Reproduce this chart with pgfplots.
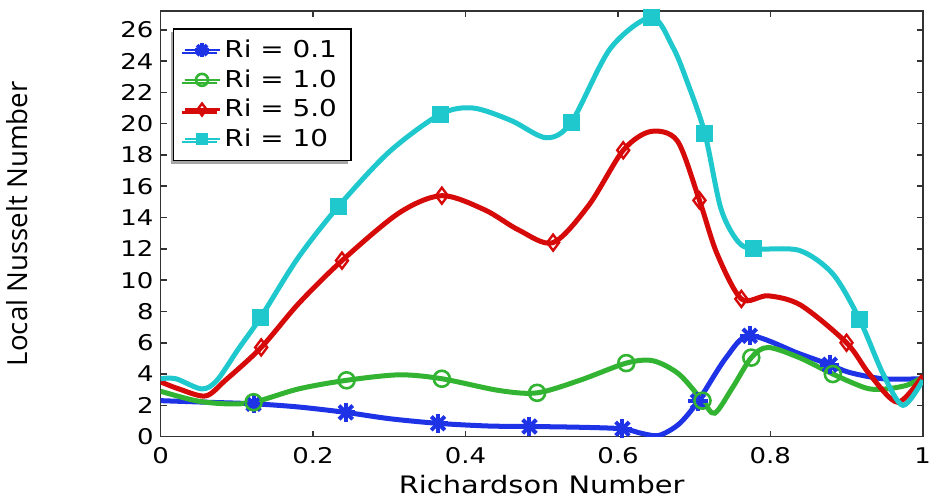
\documentclass[border=0pt]{standalone}
\usepackage{fontspec}
\setmainfont{DejaVu Sans}[FakeStretch=1.2]
\newfontfamily\ylfont{Open Sans}
\usepackage{pgfplots}
\pgfplotsset{compat=1.18}
\usetikzlibrary{shadows}
\definecolor{cblue}{RGB}{30,50,230}
\definecolor{cgreen}{RGB}{50,180,50}
\definecolor{cred}{RGB}{215,10,10}
\definecolor{ccyan}{RGB}{30,200,205}
\pgfdeclareplotmark{mstar}{\pgfuseplotmark{+}\pgfuseplotmark{x}}
\begin{document}
\begin{tikzpicture}
\begin{axis}[
  scale only axis, width=380.5pt, height=212.5pt,
  xmin=0, xmax=1, ymin=0, ymax=27.2,
  xtick={0,0.2,0.4,0.6,0.8,1}, xticklabels={0,0.2,0.4,0.6,0.8,1},
  ytick={0,2,...,26},
  /pgf/number format/assume math mode=true,
  tick align=inside, major tick length=3pt,
  tick pos=both, xticklabel pos=lower, yticklabel pos=left,
  axis line style={black!80, line width=0.8pt},
  tick style={black!80, line width=0.8pt},
  ticklabel style={font=\fontsize{10.8}{12}\selectfont},
  xticklabel style={yshift=-2pt, inner xsep=0pt},
  xlabel={Richardson Number},
  xlabel style={font=\fontsize{12}{13}\selectfont, yshift=1.5pt},
  ylabel={Local Nusselt Number},
  ylabel style={font=\ylfont\fontsize{13.8}{15}\selectfont, at={(axis description cs:-0.188,0.5)}, anchor=center, rotate=0},
  legend style={at={(0.016,0.96)}, anchor=north west, font=\fontsize{11.6}{13}\selectfont, draw=black, line width=0.8pt, fill=white,
    drop shadow={shadow xshift=-1.5pt, shadow yshift=-1.5pt, fill=black!35, opacity=1}, inner xsep=5pt, inner ysep=3.5pt, row sep=0.5pt},
  legend cell align=left,
  every axis plot/.append style={line width=2.5pt, smooth},
]
\addplot[cblue, mark=mstar, mark size=4.8pt, mark options={line width=2pt}, mark indices={3,5,7,9,11,15,17,19},
  legend image post style={mark indices={2}, line width=1.3pt, mark size=3.5pt}] coordinates {
(0,2.3) (0.06,2.2) (0.122,2.1) (0.18,1.9) (0.243,1.55) (0.30,1.15) (0.364,0.85) (0.43,0.68) (0.484,0.65) (0.55,0.6)
(0.606,0.5) (0.632,0.2) (0.654,0.08) (0.68,0.8) (0.705,2.25) (0.742,5.05) (0.773,6.45) (0.838,5.3) (0.878,4.6) (0.904,4.1) (0.948,3.7) (1,3.7)};
\addlegendentry{Ri = 0.1}
\addplot[cgreen, mark=o, mark size=4pt, mark options={line width=1.3pt, fill=white}, mark indices={4,6,8,10,12,15,18,21},
  legend image post style={mark indices={2}, line width=1.3pt, mark size=3pt}] coordinates {
(0,2.9) (0.046,2.3) (0.085,2.1) (0.122,2.2) (0.181,3.05) (0.244,3.6) (0.313,3.95) (0.369,3.7) (0.444,2.95) (0.494,2.8)
(0.55,3.6) (0.611,4.7) (0.646,4.85) (0.68,4.0) (0.711,2.3) (0.727,1.5) (0.75,3.1) (0.775,5.05) (0.797,5.7) (0.838,5.05)
(0.882,4.0) (0.926,3.1) (0.952,3.05) (0.98,3.3) (1,3.8)};
\addlegendentry{Ri = 1.0}
\addplot[cred, mark=diamond, mark size=4pt, mark options={line width=1.2pt, fill=white}, mark indices={5,7,9,12,14,17,19,22},
  legend image post style={mark indices={2}, line width=1.3pt, mark size=3pt}] coordinates {
(0,3.5) (0.024,3.05) (0.059,2.6) (0.085,3.6) (0.132,5.7) (0.181,8.5) (0.238,11.25) (0.313,14.3) (0.369,15.4) (0.425,14.5)
(0.47,13.2) (0.515,12.4) (0.562,14.8) (0.607,18.3) (0.643,19.5) (0.678,18.9) (0.707,15.1) (0.73,11.7) (0.762,8.8)
(0.797,9.0) (0.84,8.4) (0.9,6.0) (0.93,4.0) (0.967,2.2) (1,3.9)};
\addlegendentry{Ri = 5.0}
\addplot[ccyan, mark=square*, mark size=3pt, mark indices={6,8,10,14,16,19,22,25},
  legend image post style={mark indices={2}, line width=1.3pt, mark size=2.5pt}] coordinates {
(0,3.7) (0.02,3.7) (0.054,3.05) (0.074,3.6) (0.102,5.6) (0.131,7.6) (0.18,11.4) (0.233,14.7) (0.30,18.2) (0.367,20.6)
(0.41,21.0) (0.46,20.2) (0.506,19.1) (0.539,20.1) (0.59,24.8) (0.644,26.8) (0.672,24.9) (0.69,22.8) (0.714,19.4) (0.735,14.6)
(0.757,12.5) (0.778,12.0) (0.838,11.9) (0.882,10.4) (0.917,7.5) (0.948,4.0) (0.974,2.0) (1,3.6)};
\addlegendentry{Ri = 10}
\end{axis}
\path ([yshift=5.5pt]current axis.north);
\end{tikzpicture}
\end{document}
